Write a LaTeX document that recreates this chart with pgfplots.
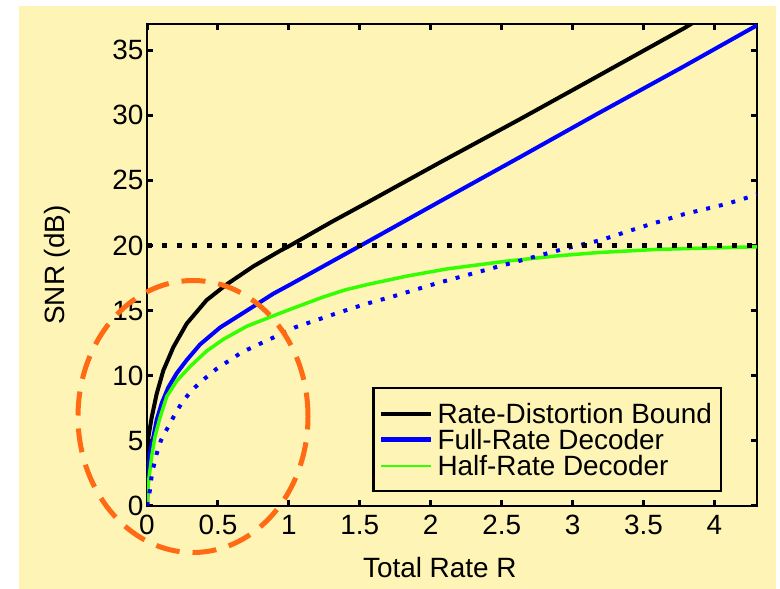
\documentclass[border=0pt]{standalone}
\usepackage{fontspec}
\setmainfont{Liberation Sans}
\usepackage{pgfplots}
\pgfplotsset{compat=1.18}
\definecolor{bgyellow}{HTML}{FDF4B6}
\definecolor{fullblue}{HTML}{0000FF}
\definecolor{halfgreen}{HTML}{33FF00}
\definecolor{ringorange}{HTML}{FF6A13}

\begin{document}
\begin{tikzpicture}[x=1bp,y=1bp]
\useasboundingbox (0,0) rectangle (780,589);
\fill[white] (0,0) rectangle (780,589);
\fill[bgyellow] (19,0) rectangle (776,583);
\begin{axis}[
  at={(147bp,83bp)}, anchor=south west,
  width=610bp, height=482bp, scale only axis,
  xmin=0, xmax=4.3, ymin=0, ymax=37,
  xtick={0,0.5,1,1.5,2,2.5,3,3.5,4},
  ytick={0,5,10,15,20,25,30,35},
  /pgf/number format/assume math mode=true,
  ticklabel style={font=\fontsize{28}{28}\selectfont},
  xticklabel style={yshift=-5.5bp},
  yticklabel style={xshift=0bp},
  axis line style={line width=2.3bp},
  tick style={black, line width=3bp},
  major tick length=6bp,
  xlabel={Total Rate R},
  ylabel={SNR (dB)},
  label style={font=\fontsize{28}{28}\selectfont},
  xlabel style={at={(axis description cs:0.48,-0.127)}, anchor=center},
  ylabel style={at={(axis description cs:-0.1475,0.5)}, anchor=center},
  legend style={
    at={(rel axis cs:0.943,0.247)}, anchor=north east,
    draw=black, line width=2.5bp, fill=bgyellow,
    font=\fontsize{28}{28}\selectfont,
    inner xsep=5bp, inner ysep=15bp,
    row sep=5bp, column sep=0bp,
    nodes={inner xsep=4bp, inner ysep=0pt, text height=20bp, text depth=1bp},
  },
  legend cell align=left,
  legend image code/.code={\draw[#1] (0bp,0bp) -- (50bp,0bp);},
]
\addlegendimage{black, line width=4bp}
\addlegendimage{fullblue, line width=5bp}
\addlegendimage{halfgreen, line width=2bp}

% rate-distortion bound
\addplot[forget plot, black, line width=4bp, line join=round] coordinates {
  (0,0) (0.003,3.0) (0.01,5.3) (0.033,6.8) (0.068,8.6) (0.115,10.4)
  (0.186,12.2) (0.28,14.0) (0.42,15.8) (0.56,17.0) (0.75,18.4) (0.94,19.6)
  (1.01,20.0) (1.3,21.8) (1.57,23.4) (2.07,26.4) (2.63,29.7) (3.17,32.95)
  (3.79,36.7) (3.85,37.1)
};
% full-rate decoder
\addplot[forget plot, fullblue, line width=4bp, line join=round] coordinates {
  (0,0) (0.005,2.0) (0.02,4.0) (0.045,5.3) (0.068,6.6) (0.104,7.9)
  (0.15,9.1) (0.21,10.2) (0.28,11.2) (0.374,12.4) (0.515,13.7) (0.704,15.0)
  (0.891,16.3) (1.01,17.0) (1.3,18.75) (1.574,20.4) (2.068,23.4) (2.632,26.8)
  (3.174,30.1) (3.76,33.6) (4.3,36.9)
};
% half-rate decoder
\addplot[forget plot, halfgreen, line width=3.5bp, line join=round] coordinates {
  (0,0) (0.009,1.7) (0.033,3.8) (0.056,5.3) (0.092,6.8) (0.139,8.4)
  (0.21,9.6) (0.303,10.7) (0.421,11.9) (0.539,12.8) (0.704,13.8) (0.891,14.6)
  (1.01,15.1) (1.244,16.05) (1.4,16.6) (1.574,17.05) (1.833,17.65) (2.115,18.2)
  (2.538,18.8) (2.891,19.2) (3.174,19.45) (3.6,19.7) (4.3,19.9)
};
% dotted blue
\addplot[forget plot, fullblue, line width=4bp, dash pattern=on 4bp off 9bp] coordinates {
  (0,0) (0.02,1.2) (0.035,2.5) (0.068,4.0) (0.097,5.0) (0.15,6.1)
  (0.205,7.2) (0.256,8.1) (0.327,9.0) (0.409,9.8) (0.487,10.5) (0.668,11.8)
  (0.845,12.7) (1.04,13.7) (1.339,14.8) (1.538,15.5) (1.738,16.1)
  (2.044,17.1) (2.5,18.45) (2.96,19.8) (3.197,20.4) (3.48,21.4)
  (3.785,22.4) (4.09,23.2) (4.3,23.9)
};
% 20 dB level
\addplot[forget plot, black, line width=4.5bp, dash pattern=on 5bp off 10bp] coordinates {
  (0,20) (4.3,20)
};
\legend{Rate-Distortion Bound, Full-Rate Decoder, Half-Rate Decoder}
\end{axis}
\draw[ringorange, line width=5bp, dash pattern=on 24bp off 13bp] (193,172.5) ellipse [x radius=115, y radius=136];
\end{tikzpicture}
\end{document}
